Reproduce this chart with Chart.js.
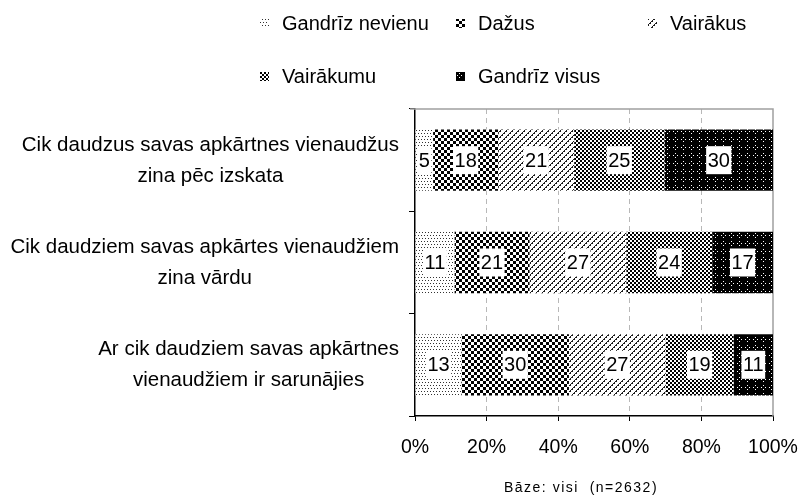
<!DOCTYPE html>
<html>
<head>
<meta charset="utf-8">
<script src="https://cdn.jsdelivr.net/npm/chart.js@4.4.0/dist/chart.umd.min.js"></script>
<style>
  html, body { margin: 0; padding: 0; background: #fff; }
  #wrap { position: relative; width: 802px; height: 502px; }
</style>
</head>
<body>
<div id="wrap"><canvas id="chart"></canvas></div>
<script>
const questions = [
  ['Cik daudzus savas apkārtnes vienaudžus', 'zina pēc izskata'],
  ['Cik daudziem savas apkārtes vienaudžiem', 'zina vārdu'],
  ['Ar cik daudziem savas apkārtnes', 'vienaudžiem ir sarunājies']
];
const answers = ['Gandrīz nevienu', 'Dažus', 'Vairākus', 'Vairākumu', 'Gandrīz visus'];
const nearlyNone = [5, 11, 13];
const some = [18, 21, 30];
const several = [21, 27, 27];
const most = [25, 24, 19];
const nearlyAll = [30, 17, 11];
const xTicks = [0, 20, 40, 60, 80, 100];
const baseNote = 'Bāze: visi  (n=2632)';

const FONT = "'Liberation Sans', Arial, sans-serif";

// small pixel tiles for the black & white fills
function tile(w, h, bg, fg, on) {
  const c = document.createElement('canvas');
  c.width = w;
  c.height = h;
  const g = c.getContext('2d');
  g.fillStyle = bg;
  g.fillRect(0, 0, w, h);
  g.fillStyle = fg;
  for (let y = 0; y < h; y++)
    for (let x = 0; x < w; x++)
      if (on(x, y)) g.fillRect(x, y, 1, 1);
  return c;
}

const canvas = document.getElementById('chart');
const ctx = canvas.getContext('2d');
const tiles = [
  tile(6, 6, '#fff', '#333', (x, y) => (x == 1 && y == 1) || (x == 4 && y == 1) || (x == 2 && y == 4) || (x == 5 && y == 4)),
  tile(6, 6, '#fff', '#000', (x, y) => ((Math.floor(x / 3) + Math.floor(y / 3)) % 2) == 0),
  tile(6, 6, '#fff', '#1a1a1a', (x, y) => (x + y) % 6 == 0 || ((x + y) % 6 == 1 && x % 2 == 0)),
  tile(4, 4, '#fff', '#000', (x, y) => ((Math.floor(x / 2) + Math.floor(y / 2)) % 2) == 0),
  tile(8, 8, '#000', '#fff', (x, y) => (x == 3 && y == 1) || (x == 1 && y == 3) || (x == 5 && y == 3) || (x == 3 && y == 5))
];
const patterns = tiles.map(t => ctx.createPattern(t, 'repeat'));

const series = [nearlyNone, some, several, most, nearlyAll];
const rowTotals = questions.map((_, i) => series.reduce((s, arr) => s + arr[i], 0));

const datasets = answers.map((name, k) => ({
  label: name,
  values: series[k],
  data: series[k].map((v, i) => v / rowTotals[i] * 100),
  backgroundColor: patterns[k],
  borderWidth: 0,
  barPercentage: 0.6,
  categoryPercentage: 1.0
}));

// white boxes with the value in the middle of each segment
const valueLabels = {
  id: 'valueLabels',
  afterDatasetsDraw(chart) {
    const c = chart.ctx;
    c.save();
    c.font = '20px ' + FONT;
    c.textAlign = 'center';
    c.textBaseline = 'middle';
    chart.data.datasets.forEach((ds, k) => {
      chart.getDatasetMeta(k).data.forEach((bar, i) => {
        const txt = String(ds.values[i]);
        const cx = (bar.x + bar.base) / 2;
        const w = c.measureText(txt).width + 3;
        c.fillStyle = '#fff';
        c.fillRect(cx - w / 2, bar.y - 14, w, 28);
        c.fillStyle = '#000';
        c.fillText(txt, cx, bar.y + 1);
      });
    });
    c.restore();
  }
};

// multi-line question texts, lines centred inside a right-aligned block
const questionLabels = {
  id: 'questionLabels',
  afterDraw(chart) {
    const c = chart.ctx;
    const y = chart.scales.y;
    c.save();
    c.font = '20.5px ' + FONT;
    c.fillStyle = '#000';
    c.textAlign = 'center';
    c.textBaseline = 'middle';
    const right = chart.chartArea.left - 16;
    questions.forEach((lines, i) => {
      const wMax = Math.max(...lines.map(l => c.measureText(l).width));
      const cx = right - wMax / 2;
      const cy = y.getPixelForValue(i);
      lines.forEach((l, j) => c.fillText(l, cx, cy - 15 + j * 31));
    });
    c.restore();
  }
};

// grey top/right frame, legend grid and base note
const frame = {
  id: 'frame',
  beforeDatasetsDraw(chart) {
    const { left, right, top, bottom } = chart.chartArea;
    const c = chart.ctx;
    c.save();
    c.strokeStyle = '#a0a0a0';
    c.lineWidth = 1.5;
    c.beginPath();
    c.moveTo(left - 5, top);
    c.lineTo(right, top);
    c.lineTo(right, bottom);
    c.stroke();
    c.restore();
  },
  afterDraw(chart) {
    const c = chart.ctx;
    c.save();
    c.font = '20px ' + FONT;
    c.textBaseline = 'middle';
    c.fillStyle = '#000';
    const cols = [260, 456, 648];
    const rows = [23, 76];
    chart.data.datasets.forEach((ds, k) => {
      const x = cols[k % 3];
      const y = rows[Math.floor(k / 3)];
      c.fillStyle = ds.backgroundColor;
      c.fillRect(x, y - 4, 9, 9);
      c.fillStyle = '#000';
      c.fillText(ds.label, x + 22, y + 1);
    });
    c.font = '14px ' + FONT;
    c.letterSpacing = '1.5px';
    c.textAlign = 'center';
    c.fillText(baseNote, 581, 488);
    c.restore();
  }
};

new Chart(canvas, {
  type: 'bar',
  data: {
    labels: questions,
    datasets: datasets
  },
  options: {
    indexAxis: 'y',
    responsive: true,
    maintainAspectRatio: false,
    animation: false,
    layout: { padding: { left: 0, right: 29, top: 109, bottom: 0 } },
    plugins: {
      legend: { display: false },
      tooltip: { enabled: false }
    },
    scales: {
      x: {
        stacked: true,
        min: 0,
        max: 100,
        afterBuildTicks: s => { s.ticks = xTicks.map(v => ({ value: v })); },
        afterFit: s => { s.height = 86; s.paddingLeft = 0; s.paddingRight = 0; },
        ticks: {
          color: '#000',
          padding: 15,
          font: { family: FONT, size: 19.5 },
          callback: v => v + '%'
        },
        grid: {
          color: c => (c.tick && (c.tick.value == 0 || c.tick.value == 100)) ? 'rgba(0,0,0,0)' : '#b8b8b8',
          tickColor: '#000',
          tickLength: 5
        },
        border: { color: '#000', width: 1.5, dash: [5, 4] }
      },
      y: {
        stacked: true,
        afterFit: s => { s.width = 415; },
        ticks: { display: false },
        grid: {
          drawOnChartArea: false,
          color: '#000',
          tickLength: 6
        },
        border: { color: '#000', width: 1.5 }
      }
    }
  },
  plugins: [valueLabels, questionLabels, frame]
});
</script>
</body>
</html>
